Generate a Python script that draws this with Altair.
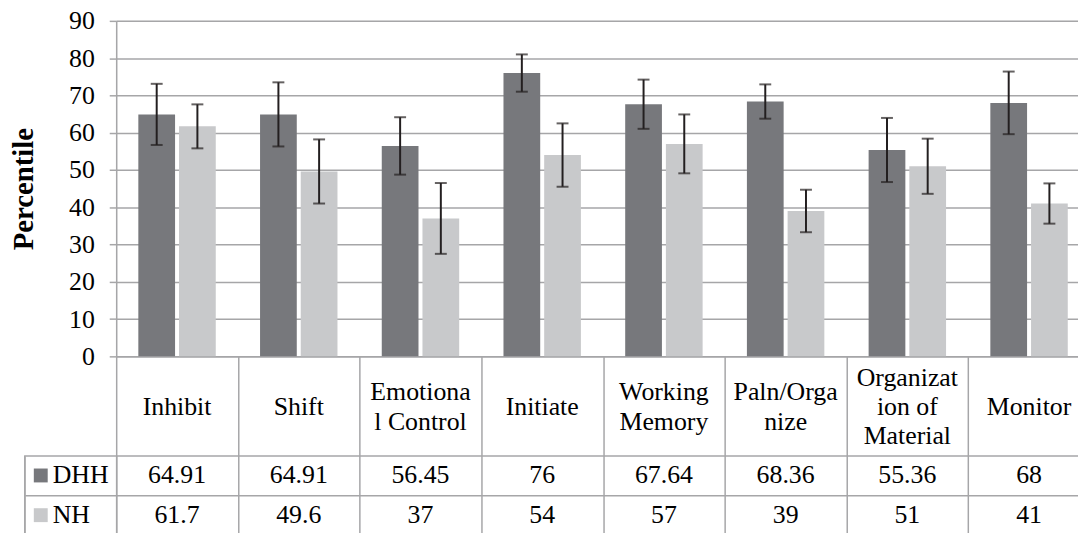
import altair as alt
import pandas as pd

# ---- data ----
categories = ["Inhibit", "Shift", "Emotiona|l Control", "Initiate", "Working|Memory",
              "Paln/Orga|nize", "Organizat|ion of|Material", "Monitor"]
groups = ["DHH", "NH"]
dhh_values = [64.91, 64.91, 56.45, 76, 67.64, 68.36, 55.36, 68]
nh_values = [61.7, 49.6, 37, 54, 57, 39, 51, 41]
dhh_err = [8.2, 8.6, 7.7, 5.0, 6.6, 4.6, 8.6, 8.4]
nh_err = [5.9, 8.6, 9.5, 8.5, 7.9, 5.7, 7.4, 5.4]
y_ticks = [0, 10, 20, 30, 40, 50, 60, 70, 80, 90]

rows = []
for g, vals, errs in [("DHH", dhh_values, dhh_err), ("NH", nh_values, nh_err)]:
    for c, v, e in zip(categories, vals, errs):
        rows.append({"category": c, "group": g, "value": v,
                     "lo": v - e, "hi": v + e, "label": f"{v:g}"})
df = pd.DataFrame(rows)
groups_df = pd.DataFrame({"group": groups})

# one row per wrapped line of each category name (line index centred on 0)
line_rows = []
for c in categories:
    parts = c.split("|")
    n = len(parts)
    for i, p in enumerate(parts):
        line_rows.append({"category": c, "line": p, "pos": i - (n - 1) / 2})
lines_df = pd.DataFrame(line_rows)

FONT = "Liberation Serif"
GRID = "#a6a6a8"
DARK = "#77787c"
LIGHT = "#c8c9cb"
ERR = "#231f20"
PLOT_H = 338
X_RANGE = 981          # 8 columns of ~122.6 px (last border falls off the page)
LABEL_ROW = 100        # height of the category-name row of the table
ROW_H = 40             # height of each data row of the table
LINE_H = 29.5          # line height of wrapped category names
TICK_LEN = LABEL_ROW + 2 * ROW_H + 4

color = alt.Color("group:N", sort=groups,
                  scale=alt.Scale(domain=groups, range=[DARK, LIGHT]), legend=None)

x_main = alt.X("category:N", sort=categories, title=None,
               scale=alt.Scale(type="band", paddingInner=0, paddingOuter=0,
                               range=[0, X_RANGE]),
               axis=alt.Axis(orient="bottom", domain=True, domainColor=GRID, domainWidth=1.5,
                             ticks=True, tickBand="extent", tickSize=TICK_LEN,
                             tickColor=GRID, tickWidth=1.5, grid=False, labels=False))
x_off = alt.XOffset("group:N", sort=groups,
                    scale=alt.Scale(domain=groups, paddingInner=0.0976, paddingOuter=0.544))
y_scale = alt.Scale(domain=[0, 90], nice=False, zero=True, range=[PLOT_H, 0])
y_axis = alt.Axis(values=y_ticks, grid=True, gridColor=GRID, gridWidth=1.5,
                  domain=True, domainColor=GRID, domainWidth=1.5,
                  tickSize=7, tickColor=GRID, tickWidth=1.5,
                  labelFont=FONT, labelFontSize=26, labelColor="black",
                  labelPadding=15, labelOverlap=False,
                  titleFont=FONT, titleFontSize=29,
                  titleFontWeight="bold", titleColor="black", titlePadding=30)


def y_enc(field):
    return alt.Y(field, title="Percentile", scale=y_scale, axis=y_axis)


base = alt.Chart(df)
bars = base.mark_bar().encode(x=x_main, xOffset=x_off, y=y_enc("value:Q"), color=color)
err_rule = base.mark_rule(color=ERR, strokeWidth=2).encode(
    x=x_main, xOffset=x_off, y=y_enc("lo:Q"), y2="hi:Q")
cap_lo = base.mark_tick(color=ERR, size=12, thickness=2).encode(
    x=x_main, xOffset=x_off, y=y_enc("lo:Q"))
cap_hi = base.mark_tick(color=ERR, size=12, thickness=2).encode(
    x=x_main, xOffset=x_off, y=y_enc("hi:Q"))

main = alt.layer(bars, err_rule, cap_lo, cap_hi)

# ---- category-name row of the table ----
label_center = PLOT_H + LABEL_ROW / 2 + 1
cat_names = alt.Chart(lines_df).mark_text(
    font=FONT, fontSize=26, color="black", baseline="middle", align="center"
).encode(
    x=x_main,
    y=alt.Y("pos:Q", axis=None,
            scale=alt.Scale(domain=[-1, 1], nice=False, zero=False,
                            range=[label_center - LINE_H, label_center + LINE_H])),
    text="line:N",
)

# ---- data rows of the table ----
tab_top = PLOT_H + LABEL_ROW
y_tab_scale = alt.Scale(type="band", domain=groups, paddingInner=0, paddingOuter=0,
                        range=[tab_top, tab_top + 2 * ROW_H])
y_tab = alt.Y("group:N", sort=groups, title=None, scale=y_tab_scale,
              axis=alt.Axis(orient="left", grid=True, tickBand="extent", gridColor=GRID,
                            gridWidth=1.5, ticks=True, tickSize=92, tickColor=GRID,
                            tickWidth=1.5, domain=True, domainColor=GRID, domainWidth=1.5,
                            labels=False))

tab_text = alt.Chart(df).mark_text(font=FONT, fontSize=26, color="black",
                                   baseline="middle").encode(x=x_main, y=y_tab,
                                                             text="label:N")
leg_base = alt.Chart(groups_df)
tab_sq = leg_base.mark_square(size=196, opacity=1, filled=True).encode(
    x=alt.value(-76), y=y_tab, color=color)
tab_name = leg_base.mark_text(font=FONT, fontSize=26, color="black", align="left",
                              baseline="middle").encode(
    x=alt.value(-64), y=y_tab, text="group:N")
tab_border = leg_base.mark_rule(color=GRID, strokeWidth=1.5).encode(
    x=alt.value(-92), y=alt.value(tab_top), y2=alt.value(tab_top + 2 * ROW_H))

table = alt.layer(tab_text, tab_sq, tab_name, tab_border)

chart = alt.layer(main, cat_names, table).resolve_scale(y="independent").resolve_axis(
    y="independent"
).properties(
    width=969, height=PLOT_H,
    autosize=alt.AutoSizeParams(type="none"),
    padding={"left": 109, "top": 11, "right": 0, "bottom": 176},
).configure_view(stroke=None).configure(font=FONT)

chart.save("out.html", embed_options={"renderer": "svg", "actions": False})
